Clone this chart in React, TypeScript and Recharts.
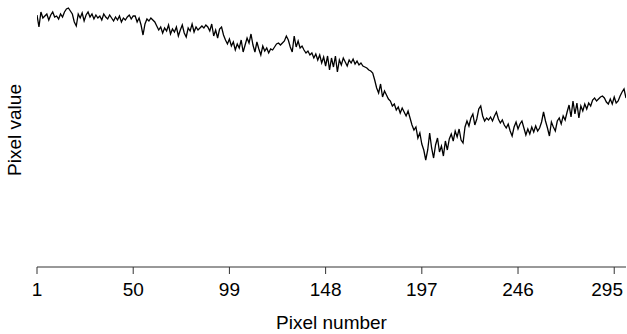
import { LineChart, Line, XAxis, YAxis } from "recharts";

// pixel intensity profile (arbitrary units)
const pixelValues = [
  252, 240, 255, 249, 251, 253, 247, 252, 255, 250,
  251, 248, 253, 250, 255, 258, 259, 256, 253, 245,
  241, 253, 249, 254, 246, 252, 255, 250, 253, 248,
  252, 249, 251, 247, 253, 250, 248, 252, 249, 246,
  250, 247, 251, 245, 249, 247, 250, 252, 248, 251,
  251, 245, 249, 242, 232, 243, 248, 246, 249, 247,
  245, 241, 237, 240, 234, 239, 236, 242, 233, 238,
  235, 240, 231, 237, 242, 234, 230, 239, 236, 243,
  235, 240, 237, 239, 241, 239, 242, 240, 236, 243,
  231, 237, 229, 238, 240, 232, 227, 223, 228, 221,
  225, 217, 223, 219, 227, 215, 222, 229, 224, 233,
  222, 215, 225, 218, 212, 221, 216, 219, 214, 218,
  217, 220, 223, 224, 222, 224, 226, 231, 227, 220,
  215, 231, 220, 226, 219, 221, 217, 214, 216, 212,
  214, 209, 213, 207, 212, 204, 210, 201, 211, 197,
  209, 200, 211, 195, 207, 202, 209, 205, 201, 207,
  204, 208, 203, 206, 202, 204, 201, 200, 199, 197,
  196, 194, 187, 179, 174, 183, 170, 176, 172, 168,
  166, 161, 163, 157, 160, 154, 159, 155, 151, 156,
  149, 142, 137, 140, 129, 134, 123, 117, 107, 117,
  134, 119, 109, 122, 129, 115, 121, 111, 126, 117,
  128, 133, 126, 136, 130, 138, 127, 124, 140, 146,
  141, 149, 153, 142, 148, 158, 161, 151, 146, 149,
  147, 150, 146, 151, 155, 148, 144, 147, 142, 139,
  143, 136, 131, 140, 145, 138, 143, 146, 139, 132,
  138, 133, 140, 135, 141, 136, 139, 145, 155, 146,
  139, 131, 145, 140, 136, 146, 149, 143, 151, 147,
  155, 162, 150, 166, 153, 164, 149, 161, 156, 163,
  158, 164, 161, 167, 169, 166, 168, 170, 171, 169,
  165, 163, 168, 163, 170, 164, 166, 171, 175, 178,
  169,
];

const xTicks = [1, 50, 99, 148, 197, 246, 295];

const data = pixelValues.map((v, i) => ({ px: i + 1, value: v }));

const font = "'Liberation Sans', Arial, Helvetica, sans-serif";
const W = 627;

const YLabel = () => (
  <text
    x={21}
    y={130}
    transform="rotate(-90 21 130)"
    textAnchor="middle"
    fontSize={19}
    fontFamily={font}
    fill="#000"
  >
    Pixel value
  </text>
);

// keeps the last label inside the picture, like the original does
const XTick = (props: any) => {
  const { x, y, payload } = props;
  const label = String(payload.value);
  const half = label.length * 0.556 * 19 / 2;
  const cx = Math.min(x, W - 4 - half);
  return (
    <text x={cx} y={y} dy="0.71em" textAnchor="middle" fontSize={19} fontFamily={font} fill="#000">
      {label}
    </text>
  );
};

export default function App() {
  return (
    <div style={{ position: "absolute", left: 0, top: 0, width: W, height: 334, background: "#fff" }}>
      <LineChart
        width={W}
        height={334}
        data={data}
        margin={{ top: 7, right: 1, left: 0, bottom: 0 }}
        style={{ fontFamily: font }}
      >
        <XAxis
          dataKey="px"
          type="number"
          domain={[1, 301]}
          ticks={xTicks}
          allowDataOverflow
          height={67}
          tickSize={7}
          tickMargin={9}
          stroke="#333"
          tick={<XTick />}
          label={{ value: "Pixel number", position: "insideBottom", offset: 5, fill: "#000", fontSize: 19, fontFamily: font }}
        />
        <YAxis
          type="number"
          domain={[0, 260]}
          width={37}
          tick={false}
          axisLine={false}
          tickLine={false}
          label={<YLabel />}
        />
        <Line
          type="linear"
          dataKey="value"
          stroke="#000"
          strokeWidth={1.3}
          dot={false}
          isAnimationActive={false}
        />
      </LineChart>
    </div>
  );
}
